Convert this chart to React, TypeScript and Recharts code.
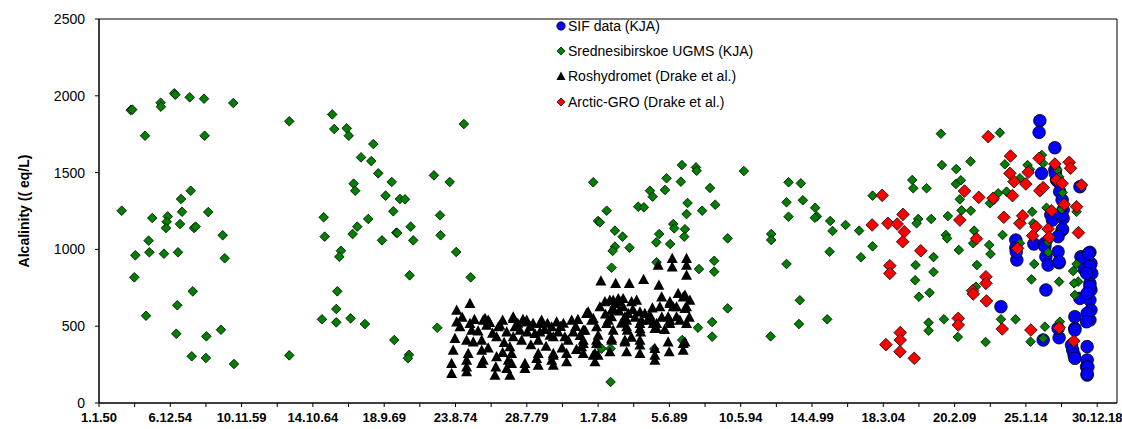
import { ScatterChart, Scatter, XAxis, YAxis, ReferenceArea } from "recharts";

// x = decimal year, y = alkalinity
const X_TICK_LABELS = [
  "1.1.50", "6.12.54", "10.11.59", "14.10.64", "18.9.69", "23.8.74", "28.7.79", "1.7.84",
  "5.6.89", "10.5.94", "14.4.99", "18.3.04", "20.2.09", "25.1.14", "30.12.18",
];
const Y_TICKS = [0, 500, 1000, 1500, 2000, 2500];

const sifData: [number, number][] = [
  [2012.34, 627], [2013.37, 1061], [2013.37, 1011], [2013.44, 931], [2013.4, 985], [2014.62, 1035],
  [2015.03, 1838], [2014.98, 1762], [2015.15, 1495], [2015.38, 1040], [2015.45, 952], [2015.6, 898],
  [2015.45, 736], [2015.38, 1018], [2015.26, 410], [2015.79, 1224], [2015.9, 1191], [2016.07, 1662],
  [2016.07, 1517], [2016.18, 1452], [2016.1, 1495], [2016.29, 1441], [2016.4, 1376], [2016.57, 1322],
  [2016.64, 1257], [2016.64, 1202], [2016.57, 1126], [2016.53, 1224], [2016.6, 1131], [2016.29, 1083],
  [2016.29, 985], [2016.36, 913], [2016.36, 920], [2016.36, 425], [2016.29, 486], [2017.45, 562],
  [2017.45, 486], [2017.45, 475], [2017.22, 377], [2017.3, 345], [2017.4, 312], [2017.45, 291],
  [2017.8, 1408], [2017.87, 952], [2018.02, 942], [2018.1, 870], [2017.8, 681], [2018.49, 981],
  [2018.56, 909], [2018.62, 844], [2018.49, 779], [2018.56, 736], [2018.49, 670], [2018.56, 605],
  [2018.49, 540], [2018.4, 974], [2018.49, 887], [2018.49, 757], [2018.26, 844], [2018.3, 714],
  [2018.3, 584], [2018.26, 529], [2018.3, 367], [2018.3, 280], [2018.26, 236], [2018.3, 182],
  [2018.35, 234], [2018.3, 189],
];

const ugmsData: [number, number][] = [
  [1952.19, 1907], [1952.3, 1910], [1954.26, 1955], [1954.28, 1929], [1955.2, 2016], [1955.27, 2007],
  [1956.27, 1990], [1957.26, 1981], [1959.28, 1953], [1963.15, 1834], [1953.18, 1740], [1957.3, 1740],
  [1956.34, 1382], [1955.67, 1328], [1951.57, 1252], [1955.74, 1245], [1957.55, 1243], [1953.68, 1204],
  [1954.75, 1215], [1954.68, 1180], [1954.63, 1139], [1955.6, 1165], [1956.57, 1139], [1956.68, 1148],
  [1958.55, 1092], [1953.43, 1057], [1952.51, 962], [1953.48, 981], [1954.49, 972], [1955.46, 981],
  [1958.69, 942], [1952.44, 818], [1956.48, 727], [1955.41, 636], [1953.25, 568], [1958.43, 477],
  [1955.34, 451], [1957.42, 434], [1956.41, 304], [1957.39, 293], [1959.33, 254], [1963.15, 310],
  [1966.12, 1879], [1966.26, 1784], [1967.12, 1788], [1967.26, 1740], [1968.96, 1686], [1975.22, 1816],
  [1968.11, 1599], [1968.82, 1575], [1969.3, 1495], [1970.23, 1439], [1967.6, 1428], [1967.71, 1382],
  [1969.81, 1350], [1970.8, 1328], [1971.15, 1326], [1973.15, 1482], [1974.24, 1439], [1970.34, 1248],
  [1965.53, 1209], [1968.61, 1198], [1967.85, 1148], [1967.53, 1100], [1971.54, 1148], [1973.57, 1222],
  [1965.6, 1083], [1969.56, 1059], [1970.55, 1109], [1970.62, 1107], [1971.72, 1059], [1973.61, 1092],
  [1974.69, 983], [1966.72, 991], [1966.61, 952], [1971.47, 831], [1975.69, 818], [1966.47, 727],
  [1966.4, 612], [1965.41, 545], [1966.4, 525], [1967.39, 551], [1968.38, 514], [1973.38, 490],
  [1970.41, 410], [1971.42, 314], [1971.35, 291],
  [1985.36, 354], [1984.74, 354], [1985.36, 137], [1984.16, 1437], [1990.29, 1549], [1991.26, 1534],
  [1991.31, 1512], [1989.23, 1463], [1990.22, 1441], [1992.23, 1400], [1988.08, 1382], [1988.27, 1343],
  [1989.12, 1387], [1985.09, 1252], [1987.27, 1278], [1987.66, 1274], [1990.68, 1302], [1990.61, 1230],
  [1991.69, 1252], [1992.59, 1291], [1984.49, 1185], [1984.62, 1176], [1985.66, 1122], [1986.19, 1083],
  [1989.69, 1165], [1989.76, 1137], [1988.72, 1100], [1990.5, 1131], [1990.45, 1083], [1993.45, 1072],
  [1985.66, 1018], [1985.5, 990], [1986.67, 1011], [1988.52, 1046], [1989.48, 1035], [1985.43, 881],
  [1988.54, 916], [1991.47, 872], [1992.52, 926], [1992.52, 855], [1993.45, 616], [1991.4, 490],
  [1992.38, 527], [1992.38, 432], [1988.38, 352], [1990.31, 410],
  [1994.57, 1510], [1997.66, 1437], [1998.51, 1430], [1997.52, 1307], [1998.65, 1320], [1997.66, 1213],
  [1999.5, 1271], [1999.62, 1215], [1999.48, 1206], [2000.54, 1185], [2000.7, 1120], [2001.6, 1159],
  [2002.54, 1122], [2003.47, 1350], [2003.47, 1020], [2002.66, 949], [2000.5, 985], [1996.46, 1100],
  [1996.46, 1061], [1997.52, 905], [1998.44, 669], [1998.38, 514], [2000.33, 545], [1996.42, 434],
  [2008.19, 1753], [2010.24, 1573], [2008.26, 1549], [2009.25, 1523], [2006.21, 1452], [2006.28, 1398],
  [2007.2, 1398], [2009.23, 1426], [2009.57, 1450], [2009.5, 1326], [2009.62, 1254], [2010.26, 1252],
  [2006.62, 1198], [2006.51, 1170], [2007.52, 1198], [2008.67, 1217], [2008.53, 1094], [2008.62, 1072],
  [2010.49, 1122], [2010.42, 1040], [2009.43, 996], [2007.68, 950], [2006.44, 898], [2007.68, 853],
  [2010.68, 898], [2006.41, 799], [2006.67, 692], [2007.41, 718], [2010.61, 757], [2007.34, 523],
  [2007.34, 471], [2008.4, 545], [2009.36, 430], [2011.28, 397],
  [2012.27, 1760], [2012.61, 1554], [2014.18, 1549], [2014.34, 1521], [2013.65, 1463], [2015.17, 1614],
  [2015.26, 1560], [2016.25, 1517], [2016.36, 1473], [2016.6, 1369], [2011.85, 1322], [2012.15, 1365],
  [2011.58, 1300], [2012.73, 1376], [2014.5, 1245], [2015.49, 1271], [2017.57, 1245], [2014.57, 1170],
  [2012.45, 1094], [2011.53, 1029], [2011.62, 970], [2013.65, 1040], [2015.6, 981], [2014.64, 905],
  [2014.45, 805], [2016.36, 790], [2017.57, 905], [2017.33, 859], [2017.68, 790], [2017.4, 779],
  [2017.45, 703], [2013.35, 545], [2012.34, 545], [2015.38, 497], [2016.41, 529], [2014.39, 399],
  [2015.26, 421], [2016.53, 1261], [2015.6, 1050],
];

const roshydrometData: [number, number][] = [
  [1974.72, 605], [1974.72, 529], [1974.95, 497], [1974.6, 421], [1974.48, 345], [1974.37, 258],
  [1974.37, 193], [1975.64, 649], [1975.64, 519], [1975.76, 475], [1975.41, 410], [1975.52, 324],
  [1975.41, 236], [1976.56, 540], [1976.79, 508], [1976.45, 410], [1976.45, 345], [1976.56, 280],
  [1977.6, 497], [1977.48, 432], [1977.48, 302], [1977.43, 236], [1978.18, 226], [1978.29, 280],
  [1978.4, 367], [1978.52, 324], [1978.63, 551], [1978.75, 497], [1978.63, 432], [1979.44, 258],
  [1979.56, 529], [1979.6, 464], [1979.21, 410], [1980.48, 519], [1980.48, 464], [1980.36, 410],
  [1980.36, 324], [1981.29, 497], [1981.4, 432], [1981.4, 324], [1981.29, 280], [1981.63, 529],
  [1981.74, 464], [1982.67, 540], [1982.78, 464], [1982.43, 410], [1982.32, 324], [1983.47, 475],
  [1983.47, 410], [1983.36, 367], [1983.81, 594], [1984.16, 551], [1984.39, 497], [1984.5, 443],
  [1984.39, 389], [1984.5, 312], [1984.97, 660], [1985.31, 670], [1985.66, 649], [1986.01, 660],
  [1986.23, 681], [1986.81, 660], [1987.16, 670], [1985.43, 605], [1985.43, 562], [1985.54, 475],
  [1985.43, 410], [1985.31, 334], [1986.35, 562], [1986.47, 497], [1986.35, 410], [1986.47, 334],
  [1987.39, 594], [1987.5, 540], [1987.39, 486], [1987.39, 410], [1987.39, 324], [1988.08, 573],
  [1988.31, 519], [1988.54, 486], [1988.42, 356], [1988.42, 312], [1988.89, 692], [1989.46, 660],
  [1989.69, 627], [1990.03, 714], [1990.38, 692], [1990.84, 670], [1990.5, 616], [1989.46, 540],
  [1989.92, 562], [1990.61, 519], [1989.34, 399], [1990.5, 399], [1990.38, 345],
  [1984.69, 796], [1985.71, 779], [1986.65, 779], [1987.64, 805], [1988.7, 768], [1989.62, 942],
  [1990.61, 942], [1989.62, 887], [1990.61, 898], [1990.61, 833], [1988.65, 898],
  [1990.5, 703], [1989.46, 649], [1989.92, 627], [1988.77, 627], [1990.61, 627], [1989.34, 562],
  [1989.46, 519], [1988.54, 519], [1988.08, 562], [1988.42, 486], [1987.39, 519], [1987.44, 464],
  [1986.47, 540], [1986.51, 475], [1985.43, 421], [1984.39, 410], [1984.28, 324], [1986.35, 399],
  [1987.39, 378], [1988.42, 280], [1990.38, 389], [1989.41, 334], [1983.7, 584], [1983.59, 475],
  [1983.47, 389], [1984.62, 627], [1985.54, 670], [1985.89, 681], [1986.23, 627], [1986.58, 584],
  [1987.73, 584], [1987.96, 540], [1984.05, 540], [1985.09, 519], [1985.54, 616],
  [1976.68, 551], [1976.9, 540], [1978.63, 562], [1979.56, 540], [1980.59, 540], [1977.71, 508],
  [1978.18, 464], [1979.1, 475], [1980.13, 453], [1981.17, 443], [1982.2, 432],
  [1975.87, 399], [1975.41, 280], [1975.41, 204], [1976.45, 258], [1977.37, 182], [1978.4, 182],
  [1978.52, 258], [1979.44, 226], [1980.25, 291], [1980.36, 247], [1981.4, 312], [1981.4, 247],
  [1982.32, 269], [1983.47, 324], [1984.16, 312], [1984.28, 269],
  [1975.1, 560], [1975.95, 545], [1976.2, 470], [1977.0, 525], [1977.2, 455], [1977.9, 540],
  [1978.0, 395], [1978.95, 520], [1979.3, 545], [1979.8, 500], [1980.0, 520], [1980.8, 480],
  [1981.0, 520], [1981.9, 500], [1982.1, 520], [1982.95, 500], [1983.1, 545], [1983.25, 440],
  [1979.85, 380], [1980.9, 370], [1982.0, 360], [1983.0, 350], [1977.9, 330], [1976.9, 360],
  [1985.0, 580], [1985.2, 540], [1985.95, 600], [1986.1, 520], [1986.9, 610], [1987.05, 560],
  [1988.25, 620], [1988.9, 560], [1989.1, 480], [1990.15, 540], [1990.8, 560], [1986.8, 430],
];

const arcticGroData: [number, number][] = [
  [2004.13, 1352], [2004.53, 1170], [2005.57, 1228], [2005.17, 1165], [2005.66, 1115], [2005.55, 1050],
  [2003.44, 1159], [2004.66, 894], [2004.66, 844], [2004.39, 380], [2005.38, 458], [2005.38, 410],
  [2005.36, 334], [2006.35, 291], [2006.8, 991], [2009.39, 551], [2009.39, 508], [2009.5, 1191],
  [2009.82, 1380], [2010.38, 731], [2010.43, 710], [2010.65, 1070], [2010.81, 1339], [2011.3, 822],
  [2011.3, 779], [2011.34, 664], [2011.46, 1734], [2011.8, 1333], [2012.43, 482], [2012.54, 1209],
  [2013.0, 1608], [2012.96, 1495], [2013.14, 1350], [2013.25, 1441], [2013.49, 1007], [2013.65, 1170],
  [2013.84, 1219], [2014.06, 1426], [2014.22, 1502], [2014.41, 475], [2014.53, 1089], [2014.76, 1148],
  [2014.98, 1593], [2015.03, 1382], [2015.26, 1402], [2015.6, 1133], [2015.67, 1079], [2015.84, 1252],
  [2016.07, 1556], [2016.18, 1452], [2016.36, 490], [2016.57, 1430], [2016.71, 1293], [2017.06, 1567],
  [2017.15, 1528], [2017.38, 404], [2017.57, 1278], [2017.7, 1109], [2017.91, 1419],
];

const DAYS_PER_YEAR = 365.25;
const X_MIN = 1950;
const X_MAX = 1950 + 25700 / DAYS_PER_YEAR;
const X_TICKS = Array.from({ length: 29 }, (_, i) => X_MIN + (i * 900) / DAYS_PER_YEAR);

const toPoints = (rows: [number, number][]) => rows.map(([year, alk]) => ({ year, alk }));

const formatXTick = (v: number) => {
  const i = Math.round(((v - X_MIN) * DAYS_PER_YEAR) / 900);
  return i % 2 === 0 ? X_TICK_LABELS[i / 2] ?? "" : "";
};

const diamond = (r: number, fill: string) => (props: any) => {
  const { cx, cy } = props;
  if (cx == null || cy == null) return <g />;
  return (
    <path
      d={`M${cx},${cy - r}L${cx + r},${cy}L${cx},${cy + r}L${cx - r},${cy}Z`}
      fill={fill}
      stroke="#000"
      strokeWidth={0.8}
    />
  );
};

const circle = (r: number, fill: string) => (props: any) => {
  const { cx, cy } = props;
  if (cx == null || cy == null) return <g />;
  return <circle cx={cx} cy={cy} r={r} fill={fill} stroke="#000" strokeWidth={0.8} />;
};

const triangle = (s: number) => (props: any) => {
  const { cx, cy } = props;
  if (cx == null || cy == null) return <g />;
  return <path d={`M${cx},${cy - s}L${cx + s},${cy + s * 0.85}L${cx - s},${cy + s * 0.85}Z`} fill="#000" />;
};

const FONT = "'Liberation Sans', Arial, sans-serif";

const LEGEND = [
  { label: "SIF data (KJA)", icon: <circle cx={6} cy={7} r={4.2} fill="#0000FF" stroke="#000" strokeWidth={0.7} /> },
  { label: "Srednesibirskoe UGMS (KJA)", icon: <path d="M6,3L10,7L6,11L2,7Z" fill="#008000" stroke="#000" strokeWidth={0.7} /> },
  { label: "Roshydromet (Drake et al.)", icon: <path d="M6,2.5L10.5,11L1.5,11Z" fill="#000" /> },
  { label: "Arctic-GRO (Drake et al.)", icon: <path d="M6,3L10,7L6,11L2,7Z" fill="#FF0000" stroke="#000" strokeWidth={0.7} /> },
];

export default function App() {
  return (
    <div style={{ position: "absolute", left: 0, top: 0, width: 1122, height: 429, background: "#fff" }}>
      <ScatterChart width={1122} height={429} margin={{ top: 19, right: 5, bottom: 0, left: 0 }}>
        <XAxis
          type="number"
          dataKey="year"
          domain={[X_MIN, X_MAX]}
          ticks={X_TICKS}
          interval={0}
          tickFormatter={formatXTick}
          allowDataOverflow
          height={26}
          tickSize={4}
          tickMargin={6}
          axisLine={{ stroke: "#000" }}
          tickLine={{ stroke: "#000" }}
          tick={{ fill: "#000", fontSize: 13, fontWeight: 700, fontFamily: "'Liberation Sans Narrow', " + FONT }}
        />
        <YAxis
          type="number"
          dataKey="alk"
          domain={[0, 2500]}
          ticks={Y_TICKS}
          interval={0}
          width={99}
          tickSize={4}
          tickMargin={10}
          axisLine={{ stroke: "#000" }}
          tickLine={{ stroke: "#000" }}
          tick={{ fill: "#000", fontSize: 14, fontFamily: FONT }}
          label={{
            value: "Alcalinity (( eq/L)",
            angle: -90,
            position: "insideLeft",
            offset: 24,
            style: { textAnchor: "middle", fontSize: 14, fontWeight: 700, fontFamily: FONT, fill: "#000" },
          }}
        />
        <ReferenceArea x1={X_MIN} x2={X_MAX} y1={0} y2={2500} fill="none" stroke="#000" strokeWidth={1} />
        <Scatter name="SIF data (KJA)" data={toPoints(sifData)} shape={circle(6.3, "#0000FF")} isAnimationActive={false} />
        <Scatter name="Srednesibirskoe UGMS (KJA)" data={toPoints(ugmsData)} shape={diamond(4.8, "#008000")} isAnimationActive={false} />
        <Scatter name="Roshydromet (Drake et al.)" data={toPoints(roshydrometData)} shape={triangle(5.5)} isAnimationActive={false} />
        <Scatter name="Arctic-GRO (Drake et al.)" data={toPoints(arcticGroData)} shape={diamond(6.3, "#FF0000")} isAnimationActive={false} />
      </ScatterChart>
      <div style={{ position: "absolute", left: 555, top: 13, fontFamily: FONT, fontSize: 14, color: "#000" }}>
        {LEGEND.map((item) => (
          <div key={item.label} style={{ display: "flex", alignItems: "center", height: 25.3, whiteSpace: "nowrap" }}>
            <svg width={12} height={14} style={{ marginRight: 1 }}>
              {item.icon}
            </svg>
            <span>{item.label}</span>
          </div>
        ))}
      </div>
    </div>
  );
}
